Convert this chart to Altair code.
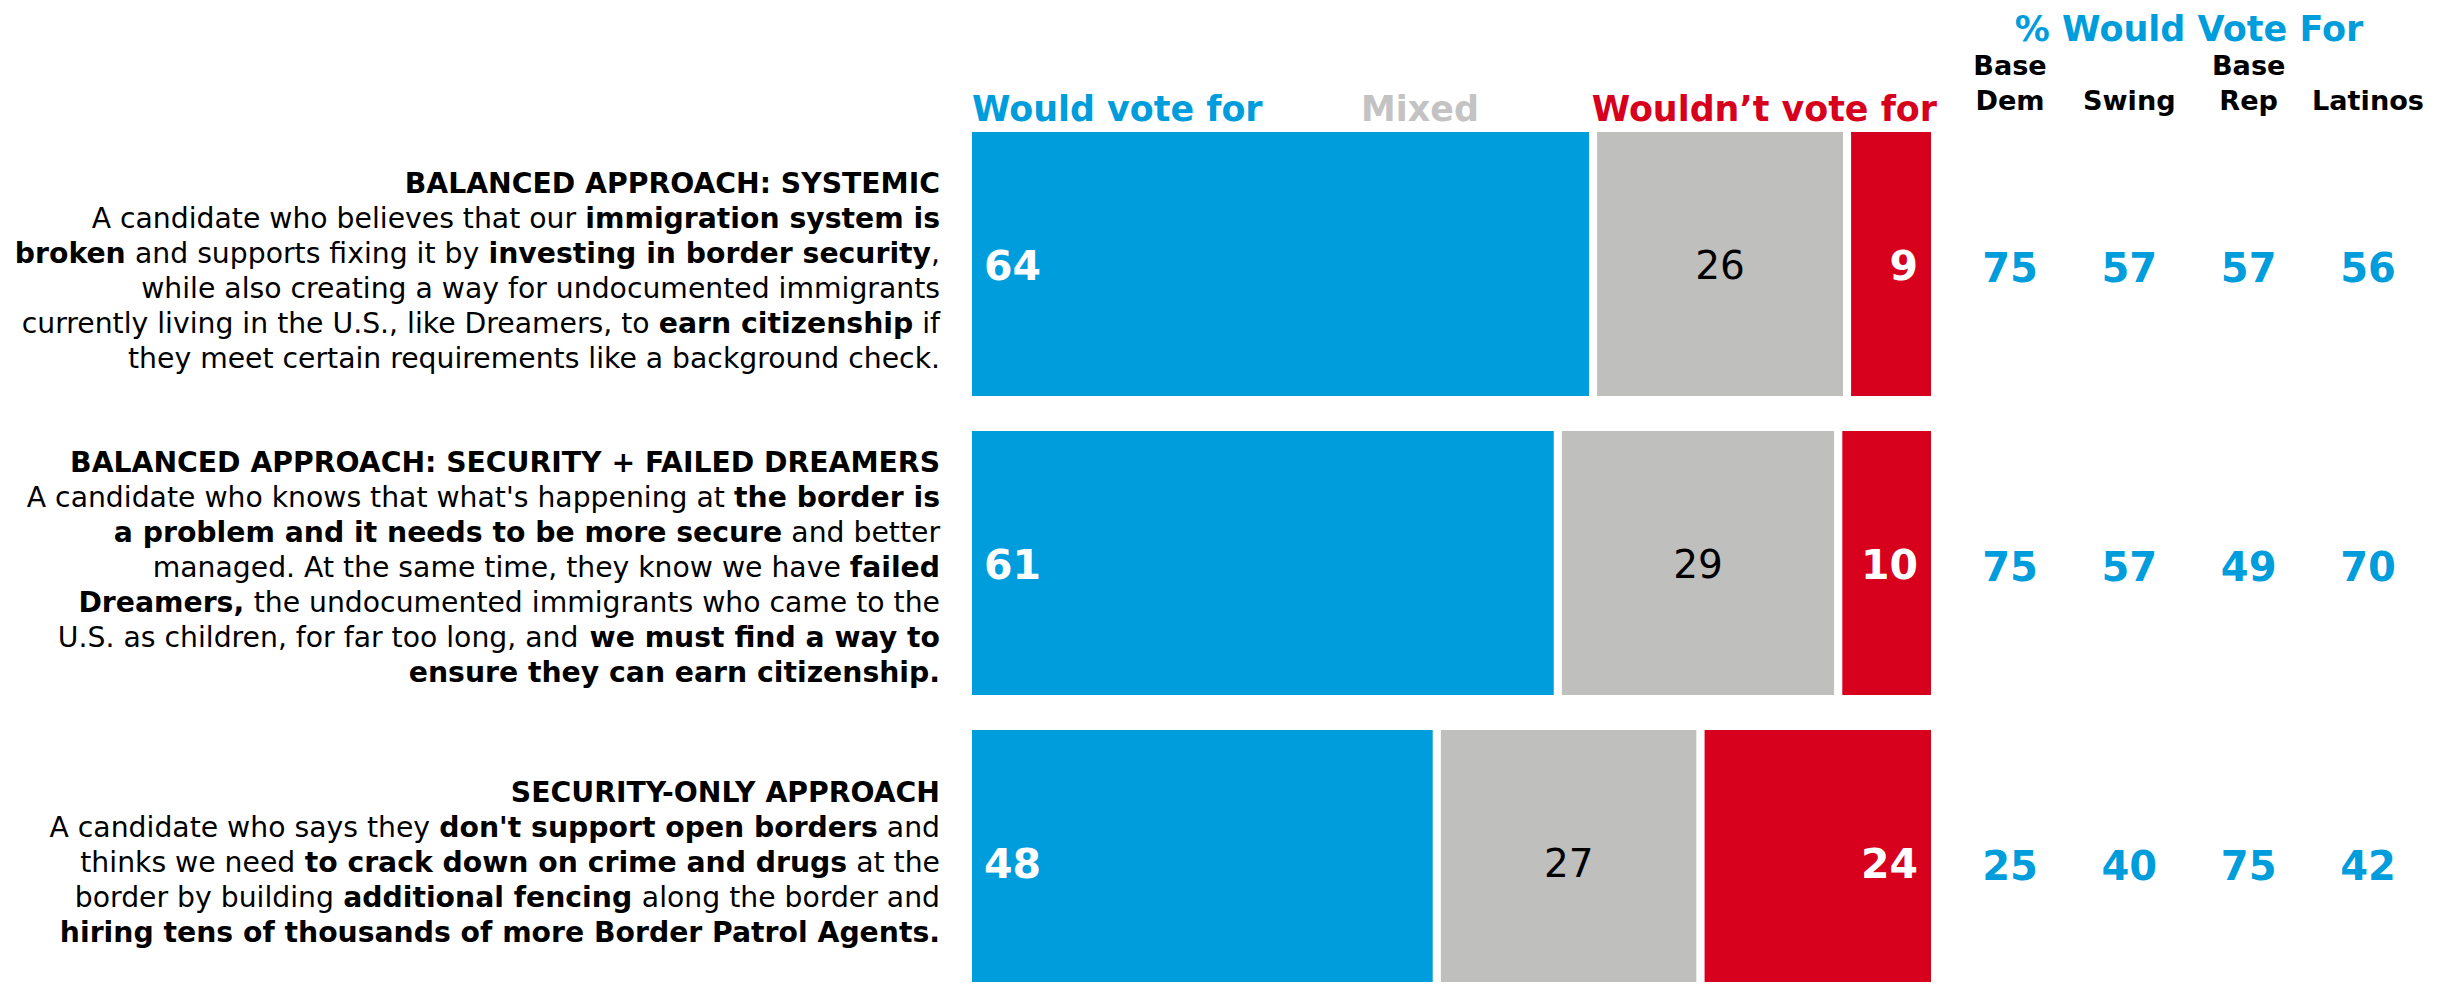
import os
import struct
import altair as alt
import pandas as pd

# ---------------- data ----------------
approaches = ["Balanced: Systemic", "Balanced: Security + Failed Dreamers", "Security-only"]
responses = ["Would vote for", "Mixed", "Wouldn’t vote for"]
would_vote = [64, 61, 48]
mixed = [26, 29, 27]
wouldnt_vote = [9, 10, 24]

groups = ["Base Dem", "Swing", "Base Rep", "Latinos"]
group_line1 = ["Base", "", "Base", ""]
group_line2 = ["Dem", "Swing", "Rep", "Latinos"]
pct_base_dem = [75, 75, 25]
pct_swing = [57, 57, 40]
pct_base_rep = [57, 49, 75]
pct_latinos = [56, 70, 42]

# description lines: list of (text, bold) segments
desc_systemic = [
    [("BALANCED APPROACH: SYSTEMIC", True)],
    [("A candidate who believes that our ", False), ("immigration system is", True)],
    [("broken", True), (" and supports fixing it by ", False), ("investing in border security", True), (",", False)],
    [("while also creating a way for undocumented immigrants", False)],
    [("currently living in the U.S., like Dreamers, to ", False), ("earn citizenship", True), (" if", False)],
    [("they meet certain requirements like a background check.", False)],
]
desc_dreamers = [
    [("BALANCED APPROACH: SECURITY + FAILED DREAMERS", True)],
    [("A candidate who knows that what's happening at ", False), ("the border is", True)],
    [("a problem and it needs to be more secure", True), (" and better", False)],
    [("managed. At the same time, they know we have ", False), ("failed", True)],
    [("Dreamers,", True), (" the undocumented immigrants who came to the", False)],
    [("U.S. as children, for far too long, and ", False), ("we must find a way to", True)],
    [("ensure they can earn citizenship.", True)],
]
desc_security = [
    [("SECURITY-ONLY APPROACH", True)],
    [("A candidate who says they ", False), ("don't support open borders", True), (" and", False)],
    [("thinks we need ", False), ("to crack down on crime and drugs", True), (" at the", False)],
    [("border by building ", False), ("additional fencing", True), (" along the border and", False)],
    [("hiring tens of thousands of more Border Patrol Agents.", True)],
]
descriptions = [desc_systemic, desc_dreamers, desc_security]

# ---------------- style / layout ----------------
FONT = "DejaVu Sans"
BLUE = "#009DDC"
GRAY = "#BFBFBD"
RED = "#D7001D"
MIXED_HDR = "#C3C3C3"

W, H = 2420, 974
ROW_RANGE = [120, 990]
PAD_INNER = 0.0903
STEP = (ROW_RANGE[1] - ROW_RANGE[0]) / (3 - PAD_INNER)
BAND = STEP * (1 - PAD_INNER)
BAR_RANGE = [960, 1927]
DESC_RIGHT = 932
DESC_LINE = 35
DESC_SHIFT = [16, 14, 10]
COL_RANGE = [2002, 2360]


# ---------------- font metrics (for mixed-weight right-aligned lines) ----------------
class FontMetrics:
    def __init__(self, path):
        d = open(path, "rb").read()
        self.d = d
        base = 0
        if d[:4] == b"ttcf":
            base = struct.unpack(">I", d[12:16])[0]
        num = struct.unpack(">H", d[base + 4:base + 6])[0]
        t = {}
        for i in range(num):
            rec = base + 12 + 16 * i
            tag = d[rec:rec + 4].decode("latin1")
            off = struct.unpack(">I", d[rec + 8:rec + 12])[0]
            t[tag] = off
        self.upem = struct.unpack(">H", d[t["head"] + 18:t["head"] + 20])[0]
        nh = struct.unpack(">H", d[t["hhea"] + 34:t["hhea"] + 36])[0]
        hm = t["hmtx"]
        self.adv = [struct.unpack(">H", d[hm + 4 * i:hm + 4 * i + 2])[0] for i in range(nh)]
        cm = t["cmap"]
        nsub = struct.unpack(">H", d[cm + 2:cm + 4])[0]
        best = None
        rank = None
        for i in range(nsub):
            pid, eid, off = struct.unpack(">HHI", d[cm + 4 + 8 * i:cm + 12 + 8 * i])
            fmt = struct.unpack(">H", d[cm + off:cm + off + 2])[0]
            r = None
            if fmt == 12:
                r = 0
            elif fmt == 4 and (pid, eid) in ((3, 1), (0, 3), (0, 4), (0, 1), (0, 0)):
                r = 1
            elif fmt == 4:
                r = 2
            if r is not None and (rank is None or r < rank):
                rank, best = r, (fmt, cm + off)
        self.fmt, self.sub = best
        self.cache = {}

    def glyph(self, c):
        d, o = self.d, self.sub
        if self.fmt == 12:
            n = struct.unpack(">I", d[o + 12:o + 16])[0]
            for i in range(n):
                sc, ec, sg = struct.unpack(">III", d[o + 16 + 12 * i:o + 28 + 12 * i])
                if sc <= c <= ec:
                    return sg + c - sc
            return 0
        segx2 = struct.unpack(">H", d[o + 6:o + 8])[0]
        seg = segx2 // 2
        end_o = o + 14
        start_o = end_o + segx2 + 2
        delta_o = start_o + segx2
        roff_o = delta_o + segx2
        for s in range(seg):
            end = struct.unpack(">H", d[end_o + 2 * s:end_o + 2 * s + 2])[0]
            if end >= c:
                start = struct.unpack(">H", d[start_o + 2 * s:start_o + 2 * s + 2])[0]
                if start > c:
                    return 0
                delta = struct.unpack(">h", d[delta_o + 2 * s:delta_o + 2 * s + 2])[0]
                ro = struct.unpack(">H", d[roff_o + 2 * s:roff_o + 2 * s + 2])[0]
                if ro == 0:
                    return (c + delta) & 0xFFFF
                addr = roff_o + 2 * s + ro + 2 * (c - start)
                g = struct.unpack(">H", d[addr:addr + 2])[0]
                return (g + delta) & 0xFFFF if g else 0
        return 0

    def em(self, ch):
        if ch not in self.cache:
            g = self.glyph(ord(ch))
            a = self.adv[min(g, len(self.adv) - 1)]
            self.cache[ch] = a / self.upem
        return self.cache[ch]


def _find_fonts():
    files = []
    for dd in ["/usr/share/fonts", "/usr/local/share/fonts",
               os.path.expanduser("~/.fonts"), os.path.expanduser("~/.local/share/fonts")]:
        for root, _, fs in os.walk(dd):
            for f in fs:
                if f.lower().endswith((".ttf", ".otf", ".ttc")):
                    files.append(os.path.join(root, f))
    reg = bold = None
    for f in files:
        n = os.path.basename(f).lower().replace("-", "").replace("_", "")
        if n == "dejavusans.ttf":
            reg = f
        if n == "dejavusansbold.ttf":
            bold = f
    return reg, bold


class Approx:
    def em(self, ch):
        if ch == " ":
            return 0.32
        if ch.isupper():
            return 0.70
        if ch in "il.,'’:;|!":
            return 0.30
        if ch in "mwMW":
            return 0.95
        return 0.60


try:
    _r, _b = _find_fonts()
    M_REG = FontMetrics(_r)
    M_BOLD = FontMetrics(_b)
except Exception:
    M_REG = Approx()
    M_BOLD = Approx()
    M_BOLD.em = lambda ch, f=Approx().em: f(ch) * 1.1


def em_width(segs):
    return sum((M_BOLD if b else M_REG).em(ch) for t, b in segs for ch in t)


def fit(text, bold, target, lo, hi):
    s = target / em_width([(text, bold)])
    return max(lo, min(hi, s))


# font sizes
DESC_FS = max(20.0, min(30.0, 921.5 / em_width(desc_systemic[4])))
HDR_FS = fit("Would vote for", True, 292, 30, 42)
TITLE_FS = 35
GRP_FS = fit("Latinos", True, 112, 22, 32)
NUM_FS = 41
MID_FS = 39
TBL_FS = 40


def row_center(k):
    return ROW_RANGE[0] + STEP * k + BAND / 2


# ---------------- tables ----------------
bar_rows = []
for k, a in enumerate(approaches):
    vals = [would_vote[k], mixed[k], wouldnt_vote[k]]
    tot = float(sum(vals))
    cum = 0.0
    for r, v in zip(responses, vals):
        x0 = cum / tot
        cum += v
        x1 = cum / tot
        bar_rows.append({"approach": a, "response": r, "value": v,
                         "x0": x0, "x1": x1, "xm": (x0 + x1) / 2})
bar_df = pd.DataFrame(bar_rows)

tbl_rows = []
for k, a in enumerate(approaches):
    for g, vals in zip(groups, [pct_base_dem, pct_swing, pct_base_rep, pct_latinos]):
        tbl_rows.append({"approach": a, "group": g, "value": vals[k]})
tbl_df = pd.DataFrame(tbl_rows)

grp_df = pd.DataFrame({"group": groups, "l1": group_line1, "l2": group_line2})

# description text runs (each weight run right-aligned at its computed end)
desc_items = []
for k, block in enumerate(descriptions):
    n = len(block)
    for i, segs in enumerate(block):
        base_y = row_center(k) + DESC_SHIFT[k] + (i - (n - 1) / 2) * DESC_LINE
        widths = [[(M_BOLD if b else M_REG).em(ch) * DESC_FS for ch in t] for t, b in segs]
        total = sum(sum(w) for w in widths)
        x = DESC_RIGHT - total
        for (t, b), ws in zip(segs, widths):
            stripped_end = len(t.rstrip(" "))
            end_x = x + sum(ws[:stripped_end])
            if t.strip(" "):
                desc_items.append({"x": end_x, "y": base_y, "t": t.strip(" "), "bold": b})
            x += sum(ws)
desc_df = pd.DataFrame(desc_items)

# ---------------- scales ----------------
xs = alt.Scale(domain=[0, 1], range=BAR_RANGE, nice=False)
ys = alt.Scale(type="band", domain=approaches, range=ROW_RANGE, paddingInner=PAD_INNER, paddingOuter=0)
gs = alt.Scale(type="point", domain=groups, range=COL_RANGE, padding=0)

# ---------------- layers ----------------
bars = alt.Chart(bar_df).mark_rect(stroke="white", strokeWidth=8, clip=True).encode(
    x=alt.X("x0:Q", scale=xs, axis=None),
    x2="x1:Q",
    y=alt.Y("approach:N", scale=ys, axis=None, sort=approaches),
    color=alt.Color("response:N", scale=alt.Scale(domain=responses, range=[BLUE, GRAY, RED]), legend=None),
)

lbl = alt.Chart(bar_df).encode(
    y=alt.Y("approach:N", scale=ys, axis=None, sort=approaches),
    text=alt.Text("value:Q"),
)
blue_lbl = lbl.transform_filter(alt.datum.response == responses[0]).mark_text(
    align="left", baseline="alphabetic", dx=16, dy=16, font=FONT, fontSize=NUM_FS,
    fontWeight="bold", color="white"
).encode(x=alt.X("x0:Q", scale=xs, axis=None))
gray_lbl = lbl.transform_filter(alt.datum.response == responses[1]).mark_text(
    align="center", baseline="alphabetic", dy=15, font=FONT, fontSize=MID_FS,
    fontWeight="normal", color="black"
).encode(x=alt.X("xm:Q", scale=xs, axis=None))
red_lbl = lbl.transform_filter(alt.datum.response == responses[2]).mark_text(
    align="right", baseline="alphabetic", dx=-17, dy=16, font=FONT, fontSize=NUM_FS,
    fontWeight="bold", color="white"
).encode(x=alt.X("x1:Q", scale=xs, axis=None))

tbl = alt.Chart(tbl_df).mark_text(
    align="center", baseline="alphabetic", dy=18, font=FONT, fontSize=TBL_FS,
    fontWeight="bold", color=BLUE
).encode(
    x=alt.X("group:N", scale=gs, axis=None, sort=groups),
    y=alt.Y("approach:N", scale=ys, axis=None, sort=approaches),
    text="value:Q",
)

grp1 = alt.Chart(grp_df).mark_text(
    align="center", baseline="alphabetic", font=FONT, fontSize=GRP_FS, fontWeight="bold", color="black"
).encode(x=alt.X("group:N", scale=gs, axis=None, sort=groups), y=alt.value(67), text="l1:N")
grp2 = alt.Chart(grp_df).mark_text(
    align="center", baseline="alphabetic", font=FONT, fontSize=GRP_FS, fontWeight="bold", color="black"
).encode(x=alt.X("group:N", scale=gs, axis=None, sort=groups), y=alt.value(102), text="l2:N")

title_df = pd.DataFrame({"t": ["% Would Vote For"]})
title = alt.Chart(title_df).mark_text(
    align="center", baseline="alphabetic", font=FONT, fontSize=TITLE_FS, fontWeight="bold", color=BLUE
).encode(x=alt.value((COL_RANGE[0] + COL_RANGE[1]) / 2), y=alt.value(33), text="t:N")

hdr_df = pd.DataFrame({"t": responses})
hdr_would = alt.Chart(hdr_df).transform_filter(alt.datum.t == responses[0]).mark_text(
    align="left", baseline="alphabetic", font=FONT, fontSize=HDR_FS, fontWeight="bold", color=BLUE
).encode(x=alt.value(BAR_RANGE[0] + 4), y=alt.value(113), text="t:N")
hdr_mixed = alt.Chart(hdr_df).transform_filter(alt.datum.t == responses[1]).mark_text(
    align="center", baseline="alphabetic", font=FONT, fontSize=HDR_FS, fontWeight="bold", color=MIXED_HDR
).encode(x=alt.value(1412), y=alt.value(113), text="t:N")
hdr_wouldnt = alt.Chart(hdr_df).transform_filter(alt.datum.t == responses[2]).mark_text(
    align="right", baseline="alphabetic", font=FONT, fontSize=HDR_FS, fontWeight="bold", color=RED
).encode(x=alt.value(BAR_RANGE[1] + 2), y=alt.value(113), text="t:N")

desc_reg = alt.Chart(desc_df).transform_filter(~alt.datum.bold).mark_text(
    align="right", baseline="alphabetic", font=FONT, fontSize=DESC_FS, fontWeight="normal", color="black"
).encode(x=alt.X("x:Q", scale=None), y=alt.Y("y:Q", scale=None), text="t:N")
desc_bold = alt.Chart(desc_df).transform_filter(alt.datum.bold).mark_text(
    align="right", baseline="alphabetic", font=FONT, fontSize=DESC_FS, fontWeight="bold", color="black"
).encode(x=alt.X("x:Q", scale=None), y=alt.Y("y:Q", scale=None), text="t:N")

chart = alt.layer(
    bars, blue_lbl, gray_lbl, red_lbl, tbl, grp1, grp2, title,
    hdr_would, hdr_mixed, hdr_wouldnt, desc_reg, desc_bold,
).resolve_scale(x="independent", y="independent").properties(
    width=W, height=H, padding=0, autosize=alt.AutoSizeParams(type="none"),
).configure_view(stroke=None)

chart.save("out.html", embed_options={"renderer": "svg", "actions": False})
